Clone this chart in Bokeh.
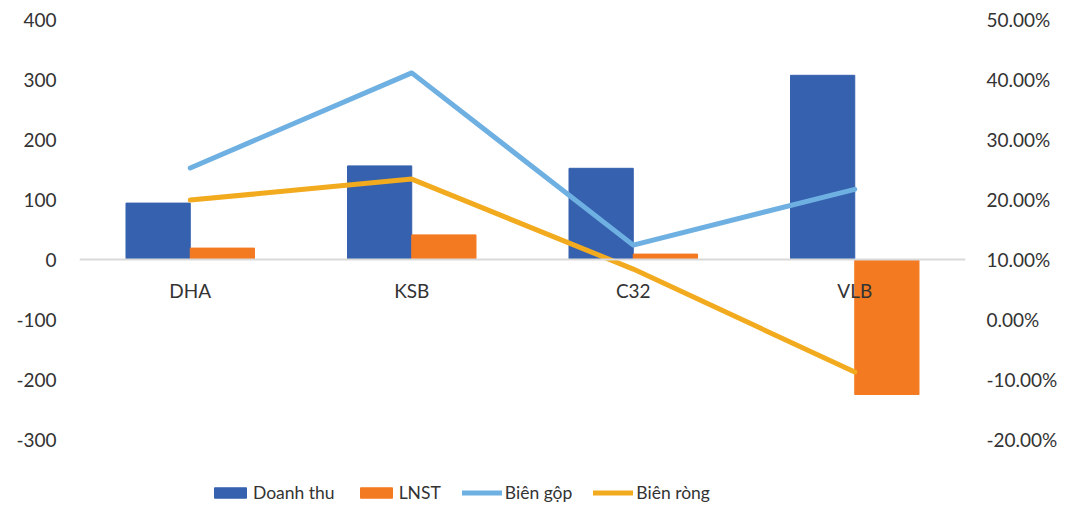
from bokeh.plotting import figure
from bokeh.models import (FactorRange, Range1d, LinearAxis, FixedTicker, Span,
                          NumeralTickFormatter, Legend, LegendItem, ColumnDataSource)
from bokeh.core.properties import value
from bokeh.transform import dodge
from bokeh.embed import file_html
from bokeh.resources import INLINE

categories = ["DHA", "KSB", "C32", "VLB"]
doanh_thu = [94, 156, 152, 307]
lnst = [19, 41, 9, -225]
bien_gop = [0.2525, 0.411, 0.124, 0.217]
bien_rong = [0.199, 0.234, 0.084, -0.0875]
left_ticks = [-300, -200, -100, 0, 100, 200, 300, 400]
right_ticks = [-0.2, -0.1, 0.0, 0.1, 0.2, 0.3, 0.4, 0.5]

FONT = "Lato"
TXT = "#333333"
FS = "19px"

W, H = 1060, 505
TOP, LEFT, RIGHT = 19, 79, 95
px_per_unit = 0.6
y_min = 400 - (H - TOP) / px_per_unit

src = ColumnDataSource(dict(cat=categories, dt=doanh_thu, ln=lnst, bg=bien_gop, br=bien_rong,
                            zero=[0] * len(categories)))

p = figure(x_range=FactorRange(*categories), y_range=Range1d(y_min, 400),
           width=W, height=H, output_backend="svg", toolbar_location=None,
           x_axis_location=None, y_axis_location=None,
           min_border_left=LEFT, min_border_right=RIGHT, min_border_top=TOP, min_border_bottom=0)
p.extra_y_ranges = {"pct": Range1d(y_min / 1000 + 0.1, 0.5)}
p.xgrid.visible = False
p.ygrid.visible = False
p.outline_line_color = None

p.add_layout(Span(location=0, dimension="width", line_color="#D9D9D9", line_width=2))

r_dt = p.vbar(x=dodge("cat", -0.145, range=p.x_range), top="dt", bottom=0, width=0.29,
              source=src, fill_color="#3561AE", line_color="#3561AE")
r_ln = p.vbar(x=dodge("cat", 0.145, range=p.x_range), top="ln", bottom=0, width=0.29,
              source=src, fill_color="#F47A22", line_color="#F47A22")
r_bg = p.line(x="cat", y="bg", source=src, y_range_name="pct", line_color="#6FB0E2",
              line_width=5, line_cap="round", line_join="round")
r_br = p.line(x="cat", y="br", source=src, y_range_name="pct", line_color="#F2AA1E",
              line_width=5, line_cap="round", line_join="round")

p.text(x="cat", y="zero", text="cat", source=src, y_offset=31,
       text_align="center", text_baseline="middle",
       text_font=value(FONT), text_font_size=FS, text_color=TXT)

yl = LinearAxis(ticker=FixedTicker(ticks=left_ticks), formatter=NumeralTickFormatter(format="0"))
yr = LinearAxis(y_range_name="pct", ticker=FixedTicker(ticks=right_ticks),
                formatter=NumeralTickFormatter(format="0.00%"))
for ax in (yl, yr):
    ax.axis_line_color = None
    ax.major_tick_line_color = None
    ax.minor_tick_line_color = None
    ax.major_label_text_font = FONT
    ax.major_label_text_font_size = FS
    ax.major_label_text_color = TXT
yl.major_label_standoff = 17
yr.major_label_standoff = 15
p.add_layout(yl, "left")
p.add_layout(yr, "right")

legend = Legend(items=[LegendItem(label="Doanh thu", renderers=[r_dt]),
                       LegendItem(label="LNST", renderers=[r_ln]),
                       LegendItem(label="Biên gộp", renderers=[r_bg]),
                       LegendItem(label="Biên ròng", renderers=[r_br])],
                orientation="horizontal", location=(131, 2),
                label_text_font=FONT, label_text_font_size="17.5px", label_text_color=TXT,
                label_height=20, glyph_width=40, glyph_height=13, label_standoff=3, spacing=21,
                padding=0, margin=0, border_line_color=None, background_fill_alpha=0)
p.add_layout(legend, "center")

open("out.html", "w").write(file_html(p, INLINE))
